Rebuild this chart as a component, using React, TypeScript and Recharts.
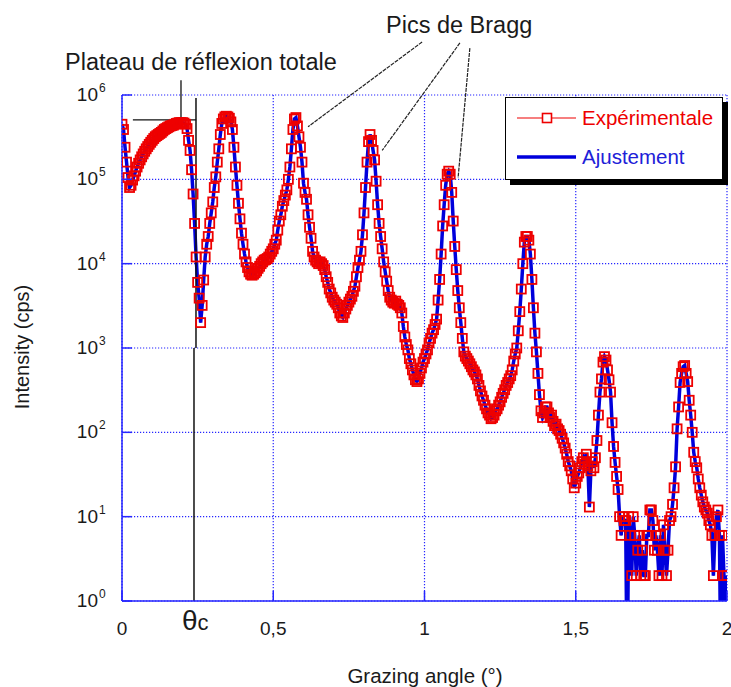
import React from 'react';
import { LineChart, Line, XAxis, YAxis, CartesianGrid, ReferenceLine, Legend } from 'recharts';

// ---------- data (intensity in cps, one value every ANGLE_STEP degrees, starting at 0°) ----------
const ANGLE_STEP = 0.005;

const seg000 = [
  4.5e5, 3.9e5, 2.4e5, 1.6e5, 1.05e5, 8.0e4, 8.5e4, 9.8e4, 1.1e5, 1.25e5,
  1.4e5, 1.55e5, 1.7e5, 1.85e5, 2.0e5, 2.15e5, 2.3e5, 2.45e5, 2.6e5, 2.75e5,
  2.9e5, 3.05e5, 3.2e5, 3.3e5, 3.4e5, 3.5e5, 3.6e5, 3.75e5, 3.9e5, 4.0e5,
  4.1e5, 4.2e5, 4.3e5, 4.35e5, 4.4e5, 4.5e5, 4.6e5, 4.65e5, 4.7e5, 4.7e5,
  4.7e5, 4.65e5, 4.5e5, 4.0e5, 2.9e5, 2.2e5, 1.3e5, 6.7e4, 3.0e4, 1.2e4,
];
const seg025 = [
  6.0e3, 3.9e3, 2.0e3, 3.2e3, 6.4e3, 1.2e4, 1.7e4, 2.1e4, 3.0e4, 4.0e4,
  5.4e4, 8.0e4, 1.07e5, 1.6e5, 2.3e5, 3.4e5, 4.6e5, 5.2e5, 5.5e5, 5.6e5,
  5.5e5, 5.3e5, 4.8e5, 3.9e5, 2.4e5, 1.4e5, 8.5e4, 5.2e4, 3.4e4, 2.3e4,
  1.7e4, 1.3e4, 1.05e4, 9.0e3, 8.0e3, 7.5e3, 7.3e3, 7.5e3, 7.8e3, 8.2e3,
  8.8e3, 9.3e3, 1.0e4, 1.05e4, 1.1e4, 1.12e4, 1.15e4, 1.2e4, 1.3e4, 1.4e4,
];
const seg050 = [
  1.5e4, 1.7e4, 1.9e4, 2.5e4, 3.2e4, 3.8e4, 4.8e4, 5.6e4, 6.5e4, 7.5e4,
  1.0e5, 1.4e5, 2.3e5, 3.9e5, 5.2e5, 5.4e5, 4.3e5, 3.2e5, 2.4e5, 1.6e5,
  9.0e4, 7.0e4, 5.8e4, 3.8e4, 2.7e4, 2.0e4, 1.4e4, 1.2e4, 1.1e4, 1.05e4,
  1.0e4, 1.05e4, 1.0e4, 9.5e3, 8.5e3, 7.0e3, 6.0e3, 5.0e3, 4.5e3, 4.0e3,
  3.7e3, 3.5e3, 3.3e3, 3.0e3, 2.6e3, 2.4e3, 2.3e3, 2.6e3, 2.9e3, 3.2e3,
];
const seg075 = [
  3.5e3, 3.8e3, 4.1e3, 4.7e3, 5.4e3, 7.0e3, 9.0e3, 1.1e4, 1.4e4, 2.2e4,
  4.0e4, 8.0e4, 1.6e5, 2.8e5, 3.4e5, 2.9e5, 2.2e5, 1.7e5, 9.5e4, 5.0e4,
  3.0e4, 2.1e4, 1.5e4, 1.05e4, 8.0e3, 6.2e3, 4.8e3, 4.0e3, 3.7e3, 3.5e3,
  3.4e3, 3.6e3, 3.3e3, 3.2e3, 3.0e3, 2.6e3, 1.8e3, 1.35e3, 1.1e3, 9.5e2,
  7.5e2, 6.5e2, 5.5e2, 4.8e2, 4.2e2, 4.0e2, 4.3e2, 5.0e2, 5.8e2, 6.8e2,
];
const seg100 = [
  7.5e2, 8.5e2, 9.5e2, 1.15e3, 1.3e3, 1.5e3, 1.65e3, 1.9e3, 2.2e3, 3.7e3,
  6.5e3, 1.3e4, 2.8e4, 5.0e4, 8.5e4, 1.15e5, 1.25e5, 1.15e5, 7.0e4, 3.2e4,
  1.6e4, 8.5e3, 4.8e3, 3.0e3, 2.0e3, 1.3e3, 9.0e2, 8.0e2, 7.5e2, 7.0e2,
  6.5e2, 6.0e2, 5.5e2, 5.2e2, 4.8e2, 4.3e2, 3.6e2, 3.1e2, 2.7e2, 2.4e2,
  2.1e2, 1.9e2, 1.7e2, 1.6e2, 1.45e2, 1.5e2, 1.6e2, 1.8e2, 1.9e2, 2.1e2,
];
const seg125 = [
  2.3e2, 2.6e2, 2.9e2, 3.2e2, 3.6e2, 3.9e2, 4.3e2, 4.7e2, 5.5e2, 7.0e2,
  8.5e2, 1.0e3, 1.6e3, 2.7e3, 5.0e3, 1.0e4, 1.8e4, 2.1e4, 2.1e4, 1.9e4,
  1.3e4, 6.5e3, 3.0e3, 1.5e3, 9.0e2, 5.0e2, 2.8e2, 1.8e2, 1.5e2, 1.7e2,
  2.0e2, 2.0e2, 1.7e2, 1.5e2, 1.6e2, 1.35e2, 1.2e2, 1.25e2, 1.1e2, 1.05e2,
  95, 85, 75, 65, 55, 45, 40, 35, 28, 22,
];
const seg150 = [
  25, 30, 33, 38, 45, 50, 42, 55, 40, 13,
  35, 45, 38, 50, 80, 160, 300, 430, 680, 790,
  720, 550, 420, 300, 130, 68, 44, 30, 21, 10,
  6, 10, 9, 9, 0, 10, 6, 2, 10, 6,
  2, 4, 6, 2, 4, 2, 2, 6, 6, 12,
];
const seg175 = [
  12, 9, 4, 6, 4, 2, 6, 2, 8, 4,
  2, 4, 9, 10, 14, 22, 39, 110, 200, 390,
  500, 600, 620, 500, 400, 240, 160, 100, 58, 45,
  38, 28, 22, 18, 15, 13, 12, 11, 9, 8,
  6, 2, 6, 10, 12, 6, 0, 6, 2, 0,
  2,
];

const intensity = [...seg000, ...seg025, ...seg050, ...seg075, ...seg100, ...seg125, ...seg150, ...seg175];

// zero-count points fall off the bottom of the log axis for the fit line
const OFF_SCALE = 0.1;

const data = intensity.map((v, i) => ({
  angle: Math.round(i * ANGLE_STEP * 1000) / 1000,
  exp: v > 0 ? v : null,
  fit: v > 0 ? v : OFF_SCALE,
}));

const xTicks = [0, 0.5, 1, 1.5, 2];
const yTicks = [1, 10, 100, 1e3, 1e4, 1e5, 1e6];

// annotation segments (data coordinates)
const thetaC = [
  [{ x: 0.238, y: 1 }, { x: 0.238, y: 1e3 }],
  [{ x: 0.2446, y: 1e3 }, { x: 0.2446, y: 9.2e5 }],
];
const plateauLines = [
  [{ x: 0.036, y: 5.06e5 }, { x: 0.245, y: 5.06e5 }],
  [{ x: 0.195, y: 5.06e5 }, { x: 0.195, y: 1.5e6 }],
];
const braggLines = [
  [{ x: 0.992, y: 4.25e6 }, { x: 0.615, y: 4.2e5 }],
  [{ x: 1.117, y: 4.14e6 }, { x: 0.86, y: 2.2e5 }],
  [{ x: 1.15, y: 3.6e6 }, { x: 1.111, y: 1.04e5 }],
];

// ---------- style ----------
const W = 731;
const H = 687;
const RED = '#ee0000';
const BLUE = '#0000dc';
const FRAME = '#2626ff';
const TXT = '#1a1a1a';
const FONT = '"Liberation Sans", Arial, Helvetica, sans-serif';

const fmtX = (v: number) => String(v).replace('.', ',');

function XTick(props: any) {
  const { x, y, payload } = props;
  return (
    <g>
      <line x1={x} x2={x} y1={y} y2={y - 10} stroke={FRAME} strokeWidth={1.5} />
      <text x={x} y={y + 34} textAnchor="middle" fontSize={19} fontFamily={FONT} fill={TXT}>
        {fmtX(payload.value)}
      </text>
    </g>
  );
}

function TopTick(props: any) {
  const { x, y } = props;
  return <line x1={x} x2={x} y1={y} y2={y + 10} stroke={FRAME} strokeWidth={1.5} />;
}

function YTick(props: any) {
  const { x, y, payload } = props;
  const e = Math.round(Math.log10(payload.value));
  return (
    <g>
      <line x1={x} x2={x + 10} y1={y} y2={y} stroke={FRAME} strokeWidth={1.5} />
      <text x={x - 24} y={y + 6} textAnchor="end" fontSize={19} fontFamily={FONT} fill={TXT}>
        10
      </text>
      <text x={x - 23} y={y - 3} fontSize={12} fontFamily={FONT} fill={TXT}>
        {e}
      </text>
    </g>
  );
}

function RightTick(props: any) {
  const { x, y } = props;
  return <line x1={x} x2={x - 10} y1={y} y2={y} stroke={FRAME} strokeWidth={1.5} />;
}

function SquareDot(props: any) {
  const { cx, cy, index } = props;
  if (cx == null || cy == null || Number.isNaN(cx) || Number.isNaN(cy)) return <g key={`s${index}`} />;
  return (
    <rect key={`s${index}`} x={cx - 4.5} y={cy - 4.5} width={9} height={9} fill="none" stroke={RED} strokeWidth={1.8} />
  );
}

function LegendBox() {
  return (
    <div
      style={{
        width: 218,
        height: 83,
        boxSizing: 'border-box',
        border: '1.5px solid #000',
        background: '#fff',
        boxShadow: '5px 5px 0 #000',
        position: 'relative',
      }}
    >
      <svg width={215} height={80} style={{ position: 'absolute', left: 0, top: 0 }}>
        <line x1={11} x2={70} y1={20} y2={20} stroke={RED} strokeWidth={1.2} />
        <rect x={36.5} y={15.5} width={9} height={9} fill="#fff" stroke={RED} strokeWidth={1.6} />
        <text x={76} y={27} fontSize={20.5} fontFamily={FONT} fill={RED}>
          Expérimentale
        </text>
        <line x1={11} x2={70} y1={59} y2={59} stroke={BLUE} strokeWidth={3.5} />
        <text x={76} y={66} fontSize={20.5} fontFamily={FONT} fill="#2020d8">
          Ajustement
        </text>
      </svg>
    </div>
  );
}

export default function App() {
  return (
    <div style={{ position: 'absolute', left: 0, top: 0, width: W, height: H, background: '#fff' }}>
      <LineChart width={W} height={H} data={data} margin={{ top: 95, right: 4, bottom: 46, left: 22 }}>
        <CartesianGrid stroke={FRAME} strokeDasharray="1.2 1.8" strokeWidth={1.2} />
        <XAxis
          dataKey="angle"
          type="number"
          domain={[0, 2]}
          ticks={xTicks}
          interval={0}
          allowDataOverflow
          height={40}
          tickSize={0}
          tickMargin={0}
          tickLine={false}
          axisLine={{ stroke: FRAME, strokeWidth: 1.5 }}
          tick={<XTick />}
        />
        <XAxis
          xAxisId="top"
          orientation="top"
          dataKey="angle"
          type="number"
          domain={[0, 2]}
          ticks={xTicks}
          interval={0}
          height={0}
          tickSize={0}
          tickMargin={0}
          tickLine={false}
          axisLine={{ stroke: FRAME, strokeWidth: 1.5 }}
          tick={<TopTick />}
        />
        <YAxis
          type="number"
          scale="log"
          domain={[1, 1e6]}
          ticks={yTicks}
          interval={0}
          allowDataOverflow
          width={100}
          tickSize={0}
          tickMargin={0}
          tickLine={false}
          axisLine={{ stroke: FRAME, strokeWidth: 1.5 }}
          tick={<YTick />}
        />
        <YAxis
          yAxisId="right"
          orientation="right"
          type="number"
          scale="log"
          domain={[1, 1e6]}
          ticks={yTicks}
          interval={0}
          allowDataOverflow
          width={0}
          tickSize={0}
          tickMargin={0}
          tickLine={false}
          axisLine={{ stroke: FRAME, strokeWidth: 1.5 }}
          tick={<RightTick />}
        />
        <Line
          dataKey="exp"
          name="Expérimentale"
          stroke={RED}
          strokeWidth={1}
          dot={false}
          isAnimationActive={false}
          legendType="none"
        />
        <Line
          dataKey="fit"
          name="Ajustement"
          stroke={BLUE}
          strokeWidth={3.5}
          dot={false}
          isAnimationActive={false}
        />
        <Line
          dataKey="exp"
          name="Expérimentale"
          stroke="none"
          dot={SquareDot}
          activeDot={false}
          isAnimationActive={false}
        />
        {thetaC.map((seg, i) => (
          <ReferenceLine key={`t${i}`} segment={seg} stroke="#111" strokeWidth={1.5} ifOverflow="visible" />
        ))}
        {plateauLines.map((seg, i) => (
          <ReferenceLine key={`p${i}`} segment={seg} stroke="#111" strokeWidth={1.3} ifOverflow="visible" />
        ))}
        {braggLines.map((seg, i) => (
          <ReferenceLine
            key={`b${i}`}
            segment={seg}
            stroke="#222"
            strokeWidth={1.2}
            strokeDasharray="4 1"
            ifOverflow="visible"
          />
        ))}
        <Legend
          layout="horizontal"
          verticalAlign="middle"
          align="center"
          content={<LegendBox />}
          wrapperStyle={{ left: 505, top: 97, width: 218, height: 83 }}
        />
      </LineChart>
      <svg
        width={W}
        height={H}
        style={{ position: 'absolute', left: 0, top: 0, pointerEvents: 'none' }}
        fontFamily={FONT}
      >
        <text x={65} y={70} fontSize={23.5} fill={TXT}>
          Plateau de réflexion totale
        </text>
        <text x={386} y={33} fontSize={23.5} fill={TXT}>
          Pics de Bragg
        </text>
        <text x={182} y={630} fill={TXT}>
          <tspan fontSize={28}>θ</tspan>
          <tspan fontSize={22}>c</tspan>
        </text>
        <text x={425} y={683} fontSize={20.5} textAnchor="middle" fill={TXT}>
          Grazing angle (°)
        </text>
        <text x={29} y={347} fontSize={20} textAnchor="middle" fill={TXT} transform="rotate(-90 29 347)">
          Intensity (cps)
        </text>
      </svg>
    </div>
  );
}
